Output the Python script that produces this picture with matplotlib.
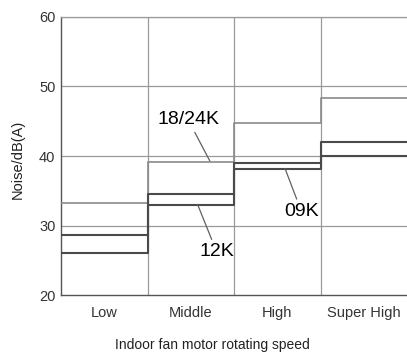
import numpy as np
import matplotlib
matplotlib.use("Agg")
import matplotlib.pyplot as plt

plt.rcParams['font.family'] = ['Liberation Sans', 'DejaVu Sans']

speeds = ["Low", "Middle", "High", "Super High"]
noise_1824k = [33.3, 39.2, 44.8, 48.3]
noise_12k = [28.6, 34.6, 39.0, 42.0]
noise_09k = [26.0, 33.0, 38.2, 40.0]
yticks = [20, 30, 40, 50, 60]

fig = plt.figure(figsize=(4.07, 3.53), dpi=100)
ax = fig.add_axes([0.150, 0.164, 0.85, 0.788])

edges = np.arange(len(speeds) + 1)
grid_c = "#9a9a9a"
for v in yticks[1:]:
    ax.axhline(v, color=grid_c, lw=0.9, zorder=1)
for e in edges[1:-1]:
    ax.axvline(e, color=grid_c, lw=0.9, zorder=1)

def stepline(vals, color, lw):
    ax.step(edges, vals + [vals[-1]], where="post", color=color, lw=lw, zorder=3)

stepline(noise_1824k, "#8a8a8a", 1.2)
stepline(noise_12k, "#4a4a4a", 1.5)
stepline(noise_09k, "#4a4a4a", 1.5)

# leader lines to the curves
lead = dict(arrowstyle="-", color="#606060", lw=0.9, shrinkA=1, shrinkB=0)
ax.annotate("18/24K", xy=(1.72, 39.3), xytext=(1.47, 45.2), fontsize=14,
            ha="center", va="center", arrowprops=lead, zorder=4)
ax.annotate("12K", xy=(1.58, 33.0), xytext=(1.80, 26.2), fontsize=14,
            ha="center", va="center", arrowprops=lead, zorder=4)
ax.annotate("09K", xy=(2.59, 38.2), xytext=(2.78, 32.0), fontsize=14,
            ha="center", va="center", arrowprops=lead, zorder=4)

ax.set_xlim(0, len(speeds))
ax.set_ylim(20, 60)
ax.set_yticks(yticks)
ax.set_xticks(edges[:-1] + 0.5)
ax.set_xticklabels(speeds, fontsize=10.5)
ax.tick_params(axis="y", labelsize=10.5, length=0, pad=4, colors="#333333")
ax.tick_params(axis="x", length=0, pad=8, colors="#333333")
for s in ["left", "bottom"]:
    ax.spines[s].set_color("#555555")
    ax.spines[s].set_linewidth(1.0)
ax.spines["right"].set_visible(False)
ax.spines["top"].set_color(grid_c)
ax.spines["top"].set_linewidth(0.9)

ax.set_xlabel("Indoor fan motor rotating speed", fontsize=10, color="#222222")
ax.xaxis.set_label_coords(0.437, -0.155)
ax.set_ylabel("Noise/dB(A)", fontsize=10.5, color="#222222")
ax.yaxis.set_label_coords(-0.105, 0.487)

fig.savefig("out.png", dpi=100)
